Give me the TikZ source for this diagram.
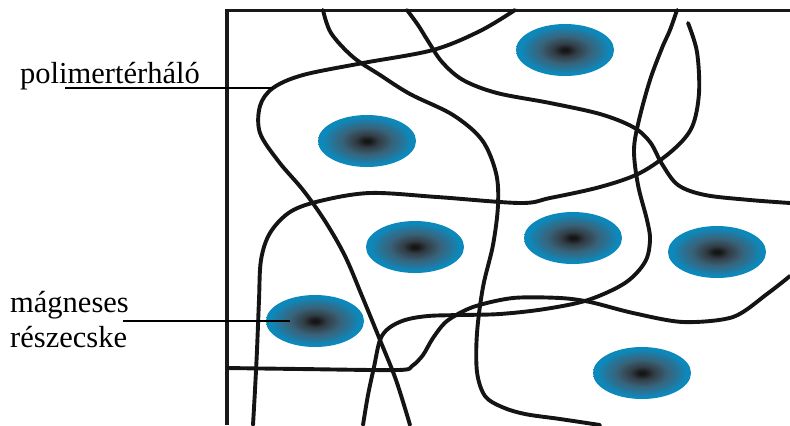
\documentclass[tikz,border=0pt]{standalone}
\usepackage{fontspec}
\setmainfont{Liberation Serif}
\usetikzlibrary{shapes.geometric}

\definecolor{pcore}{HTML}{161616}
\definecolor{pinner}{HTML}{323D45}
\definecolor{pmid}{HTML}{38637A}
\definecolor{pouter}{HTML}{22789F}
\definecolor{pedge}{HTML}{0D88BA}

% radial shading: the node outline sits at 25bp of the shading
\pgfdeclareradialshading{particleshade}{\pgfpoint{0bp}{0bp}}{%
  color(0bp)=(pcore); color(1.5bp)=(pcore); color(6bp)=(pinner);
  color(13bp)=(pmid); color(19bp)=(pouter); color(22.5bp)=(pedge);
  color(25bp)=(pedge); color(50bp)=(pedge)}

\tikzset{
  chain/.style={line width=3.9bp, line cap=round, line join=round, color=black!92},
  frameline/.style={line width=3.6bp, color=black!90},
  pointer/.style={line width=1.8bp, color=black},
  particle/.style={ellipse, inner sep=0pt, minimum width=98bp, minimum height=52bp,
    shading=particleshade},
  label/.style={font=\fontsize{30.5bp}{35bp}\selectfont, inner sep=0pt, align=left}
}

\begin{document}
\begin{tikzpicture}[x=1bp, y=-1bp]
\useasboundingbox (0,0) rectangle (790,425);

% magnetic particles
\node[particle] (m1) at (565,50) {};
\node[particle] (m2) at (367,141) {};
\node[particle] (m3) at (415,247) {};
\node[particle] (m4) at (315,321) {};
\node[particle] (m5) at (573,238) {};
\node[particle] (m6) at (717,252) {};
\node[particle] (m7) at (642,373) {};

% frame
\draw[frameline] (227,425) -- (227,10.5) -- (790,10.5);

% polymer chains
\draw[chain] plot[smooth, tension=0.55] coordinates {
  (515,10) (480,31) (433,50) (363,63) (303,75) (273,88) (260,106) (260,133)
  (279,162) (303,190) (325,221) (345,256) (362,296) (380,340) (396,380) (410,425)};
\draw[chain] plot[smooth, tension=0.55] coordinates {
  (323,10) (331,33) (353,57) (380,75) (410,94) (453,115) (482,140) (496,173)
  (498,205) (493,245) (483,287) (477,333) (477,372) (485,396) (502,407)
  (525,414) (560,419) (600,425)};
\draw[chain] plot[smooth, tension=0.55] coordinates {
  (407,10) (418,25) (428,41) (442,62) (463,80) (497,93) (550,103) (600,114)
  (633,127) (650,142) (662,164) (678,185) (705,195) (750,200) (790,203)};
\draw[chain] plot[smooth, tension=0.55] coordinates {
  (677,10) (670,30) (662,48) (650,80) (639,120) (634,150) (638,185) (647,220)
  (650,240) (645,262) (625,283) (588,300) (545,309) (500,314) (460,315)
  (428,316) (405,320) (389,328) (380,340) (374,367) (368,395) (363,425)};
\draw[chain] plot[smooth, tension=0.5] coordinates {
  (227,368) (300,369) (398,370) (412,366) (423,355) (433,338) (447,321)
  (473,307) (513,298) (560,298) (590,302) (633,313) (683,322) (733,317)
  (767,294) (790,276)};
\draw[chain] plot[smooth, tension=0.55] coordinates {
  (253,425) (255,390) (257,350) (259,300) (261,260) (270,233) (290,212)
  (320,201) (370,193) (437,197) (520,203) (550,198) (600,187) (640,173)
  (673,150) (692,127) (699,93) (697,52) (688,23)};

% labels and pointers
\node[label, anchor=base west] (lnet) at (20,83) {polimertérháló};
\coordinate (lnetstart) at (65,88);
\coordinate (lnetend) at (273,88);
\draw[pointer] (lnetstart) -- (lnetend);

\node[label, anchor=north west] (lpart) at (10,291) {mágneses\\részecske};
\coordinate (lpartstart) at (123,321);
\coordinate (lpartend) at ([xshift=-25bp]m4.center);
\draw[pointer] (lpartstart) -- (lpartend);
\end{tikzpicture}
\end{document}
